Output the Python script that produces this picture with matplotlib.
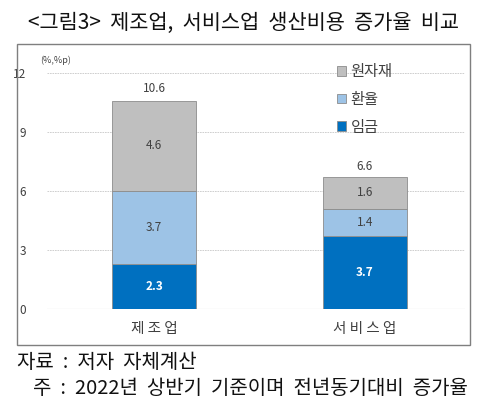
import matplotlib
matplotlib.use("Agg")
import matplotlib.pyplot as plt
from matplotlib.patches import Rectangle
import numpy as np

plt.rcParams['font.family'] = ['Noto Sans CJK KR', 'DejaVu Sans']

categories = ["제조업", "서비스업"]
wage = [2.3, 3.7]
fx = [3.7, 1.4]
raw = [4.6, 1.6]
totals = [10.6, 6.6]
series_names = ["임금", "환율", "원자재"]
yticks = [0, 3, 6, 9, 12]

colors = {"임금": "#0070C0", "환율": "#9DC3E6", "원자재": "#BFBFBF"}

fig = plt.figure(figsize=(4.9, 4.08), dpi=100)
ax = fig.add_axes([47 / 490, 99 / 408, 418 / 490, 236 / 408])

x = np.arange(len(categories))
w = 0.40
bottom = np.zeros(len(categories))
for name, vals in zip(series_names, [wage, fx, raw]):
    bars = ax.bar(x, vals, w, bottom=bottom, color=colors[name],
                  edgecolor="#8C8C8C", linewidth=0.6, label=name, zorder=3)
    for xi, b, v in zip(x, bottom, vals):
        if name == "임금":
            ax.text(xi, b + v / 2, f"{v}", ha="center", va="center",
                    color="white", fontsize=8.5, fontweight="bold", zorder=4)
        else:
            ax.text(xi, b + v / 2, f"{v}", ha="center", va="center",
                    color="#404040", fontsize=8.5, zorder=4)
    bottom += np.array(vals)

for xi, t in zip(x, totals):
    ax.text(xi, t + 0.3, f"{t}", ha="center", va="bottom",
            color="#404040", fontsize=8.5)

ax.set_ylim(0, 12)
ax.set_xlim(-0.507, 1.474)
ax.set_yticks(yticks)
ax.set_yticklabels([str(v) for v in yticks], fontsize=8.5, color="#404040")
ax.tick_params(axis="y", length=0, pad=15)
ax.set_xticks(x)
ax.set_xticklabels([" ".join(c) for c in categories], fontsize=10.5, color="#404040")
ax.tick_params(axis="x", length=0, pad=9)
for s in ax.spines.values():
    s.set_visible(False)
ax.grid(axis="y", color="#C8C8C8", linestyle=(0, (2, 1)), linewidth=0.6, zorder=0)
ax.axhline(0, color="#C8C8C8", linewidth=0.8, zorder=2)

# legend, top item first
handles, labels = ax.get_legend_handles_labels()
leg = ax.legend(handles[::-1], labels[::-1], loc="upper left",
                bbox_to_anchor=(0.66, 1.10), frameon=False, fontsize=11,
                handlelength=0.6, handleheight=0.6, handletextpad=0.3,
                labelspacing=0.7)
for t in leg.get_texts():
    t.set_color("#404040")

fig.text(40 / 490, 1 - 60 / 408, "(%,%p)", fontsize=6.5, color="#404040",
         ha="left", va="center")

# outer frame
fig.patches.append(Rectangle((17 / 490, 1 - 345 / 408), 453 / 490, 301 / 408,
                             transform=fig.transFigure, fill=False,
                             edgecolor="#7F7F7F", linewidth=1.0))

fig.text(243 / 490, 1 - 23 / 408, "<그림3>  제조업,  서비스업  생산비용  증가율  비교",
         fontsize=15, ha="center", va="center", color="#111111")
fig.text(17 / 490, 1 - 362 / 408, "자료  :  저자  자체계산", fontsize=14.4,
         ha="left", va="center", color="#111111")
fig.text(33 / 490, 1 - 388 / 408, "주  :  2022년  상반기  기준이며  전년동기대비  증가율",
         fontsize=14.4, ha="left", va="center", color="#111111")

fig.savefig("out.png", dpi=100)
